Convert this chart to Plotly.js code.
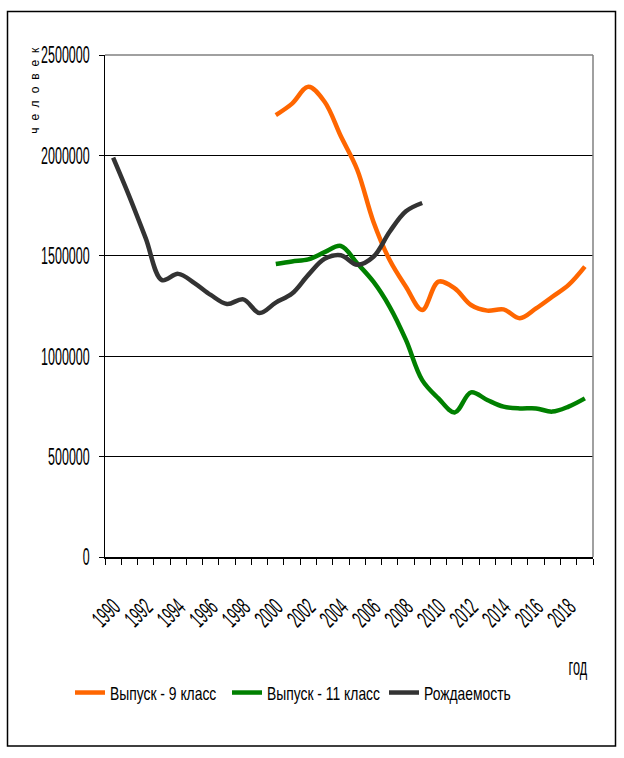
<!DOCTYPE html>
<html>
<head>
<meta charset="utf-8">
<script src="https://cdn.plot.ly/plotly-3.0.1.min.js"></script>
<style>
html,body{margin:0;padding:0;background:#fff;}
#chart{width:624px;height:758px;}
</style>
</head>
<body>
<div id="chart"></div>
<script>
// Categories (years)
var years = ['1990','1991','1992','1993','1994','1995','1996','1997','1998','1999',
             '2000','2001','2002','2003','2004','2005','2006','2007','2008','2009',
             '2010','2011','2012','2013','2014','2015','2016','2017','2018','2019'];
// Tick labels (every second year)
var tickLabels = ['1990','','1992','','1994','','1996','','1998','',
                  '2000','','2002','','2004','','2006','','2008','',
                  '2010','','2012','','2014','','2016','','2018',''];
// Рождаемость 1990–2009
var birthYears = years.slice(0, 20);
var births = [1989000,1795000,1588000,1379000,1410000,1364000,1305000,1260000,1283000,1215000,
              1267000,1312000,1405000,1485000,1503000,1455000,1495000,1620000,1722000,1763000];
// Выпуск 2000–2019
var gradYears = years.slice(10, 30);
var grad9 = [2201000,2258000,2342000,2267000,2095000,1930000,1670000,1479000,1346000,1230000,
             1371000,1338000,1255000,1227000,1233000,1189000,1238000,1296000,1355000,1446000];
var grad11 = [1459000,1472000,1482000,1518000,1549000,1463000,1371000,1246000,1081000,881000,
              790000,720000,820000,782000,749000,740000,740000,724000,749000,790000];

var FONT = '"Liberation Sans", Arial, sans-serif';

var traces = [
  {x: gradYears, y: grad9, name: 'Выпуск - 9 класс', type: 'scatter', mode: 'lines',
   line: {color: '#FF6600', width: 4.5, shape: 'spline', smoothing: 1}},
  {x: gradYears, y: grad11, name: 'Выпуск - 11 класс', type: 'scatter', mode: 'lines',
   line: {color: '#008000', width: 4.5, shape: 'spline', smoothing: 1}},
  {x: birthYears, y: births, name: 'Рождаемость', type: 'scatter', mode: 'lines',
   line: {color: '#333333', width: 4.5, shape: 'spline', smoothing: 1}}
];

// plot area px -> paper helpers
var L = 105, R = 593, T = 55, B = 557;
function px(x){ return (x - L) / (R - L); }
function py(y){ return (B - y) / (B - T); }

var layout = {
  width: 624, height: 758,
  margin: {l: L, r: 624 - R, t: T, b: 758 - B, pad: 0},
  paper_bgcolor: '#fff', plot_bgcolor: '#fff',
  font: {family: FONT, size: 16, color: '#000'},
  showlegend: true,
  legend: {orientation: 'h', x: px(70), xanchor: 'left', y: py(693), yanchor: 'middle',
           font: {family: FONT, size: 18.5, color: '#000'}, itemwidth: 30, tracegroupgap: 0,
           entrywidth: 112, entrywidthmode: 'pixels',
           bgcolor: 'rgba(0,0,0,0)'},
  xaxis: {type: 'category', categoryorder: 'array', categoryarray: years,
          range: [-0.5, 29.5], tickmode: 'array', tickvals: years, ticktext: tickLabels,
          tickson: 'boundaries', ticks: 'outside', ticklen: 6, tickcolor: '#000', tickwidth: 1,
          showline: true, linecolor: '#000', linewidth: 1.5, showgrid: false, zeroline: false,
          tickangle: -45, ticklabelstandoff: 25,
          tickfont: {family: FONT, size: 24, color: '#000'}},
  yaxis: {range: [0, 2500000], tickmode: 'linear', tick0: 0, dtick: 500000, tickformat: 'd',
          ticks: 'outside', ticklen: 5, tickcolor: '#000', tickwidth: 1,
          showline: true, linecolor: '#000', linewidth: 1.5,
          showgrid: true, gridcolor: '#000', gridwidth: 1, zeroline: false,
          ticklabelstandoff: 4,
          tickfont: {family: FONT, size: 24, color: '#000'}},
  shapes: [
    // outer chart border
    {type: 'rect', xref: 'paper', yref: 'paper', x0: px(7.5), x1: px(615.5), y0: py(746), y1: py(11.5),
     line: {color: '#000', width: 1.5}, fillcolor: 'rgba(0,0,0,0)', layer: 'below'},
    // plot area border (top, right) in grey
    {type: 'line', xref: 'paper', yref: 'paper', x0: 0, x1: 1, y0: 1, y1: 1,
     line: {color: '#808080', width: 1.5}, layer: 'above'},
    {type: 'line', xref: 'paper', yref: 'paper', x0: 1, x1: 1, y0: 0, y1: 1,
     line: {color: '#808080', width: 1.5}, layer: 'above'}
  ],
  annotations: [
    {text: 'человек', xref: 'paper', yref: 'paper', x: px(35), y: py(91), textangle: -90,
     showarrow: false, xanchor: 'center', yanchor: 'middle',
     font: {family: FONT, size: 12, color: '#000'}},
    {text: 'год', xref: 'paper', yref: 'paper', x: px(578), y: py(667),
     showarrow: false, xanchor: 'center', yanchor: 'middle',
     font: {family: FONT, size: 23, color: '#000'}}
  ]
};

// condense text horizontally to mimic the narrow, tall chart font
function setLen(t, len, mode) {
  t.setAttribute('textLength', len.toFixed(1));
  t.setAttribute('lengthAdjust', mode || 'spacingAndGlyphs');
}
function squeeze(root, selector, factor) {
  root.querySelectorAll(selector).forEach(function (t) {
    var w = t.getComputedTextLength();
    if (w > 0) setLen(t, w * factor);
  });
}

Plotly.newPlot('chart', traces, layout, {displayModeBar: false, staticPlot: true}).then(function (gd) {
  squeeze(gd, '.ytick text', 0.52);
  squeeze(gd, '.xtick text', 0.52);
  squeeze(gd, '.legendtext', 0.75);
  gd.querySelectorAll('.annotation-text').forEach(function (t) {
    if (t.textContent === 'год') setLen(t, t.getComputedTextLength() * 0.55);
    else setLen(t, 86, 'spacing');
  });
});
</script>
</body>
</html>
